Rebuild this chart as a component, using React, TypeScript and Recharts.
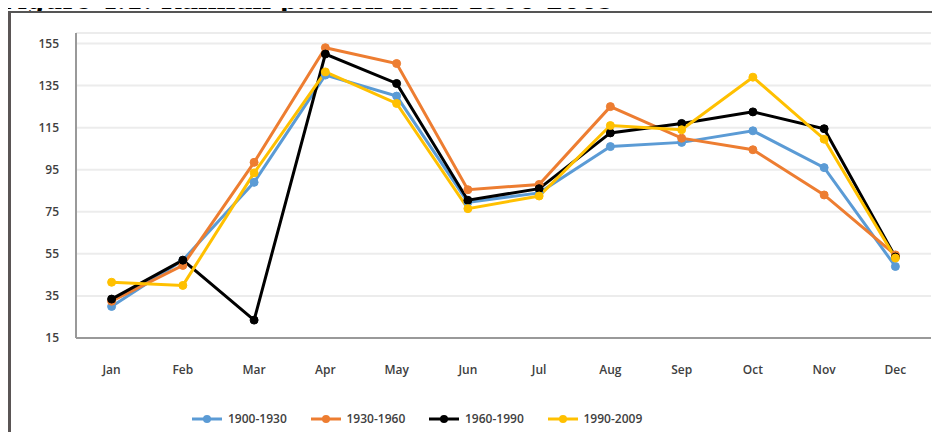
import { LineChart, Line, XAxis, YAxis, CartesianGrid } from "recharts";

const MONTHS = ["Jan", "Feb", "Mar", "Apr", "May", "Jun", "Jul", "Aug", "Sep", "Oct", "Nov", "Dec"];
const Y_TICKS = [15, 35, 55, 75, 95, 115, 135, 155];

const P1900_1930 = [30, 52, 89, 140, 130, 79.5, 84, 106, 108, 113.5, 96, 49];
const P1930_1960 = [32.5, 49.5, 98.5, 153, 145.5, 85.5, 88, 125, 110, 104.5, 83, 54.5];
const P1960_1990 = [33.5, 52, 23.5, 150, 136, 80.5, 86, 112.5, 117, 122.5, 114.5, 53.5];
const P1990_2009 = [41.5, 40, 93.5, 141.5, 126.5, 76.5, 82.5, 116, 114, 139, 109.5, 53];

const SERIES = [
  { key: "a", name: "1900-1930", color: "#5b9bd5" },
  { key: "b", name: "1930-1960", color: "#ed7d31" },
  { key: "c", name: "1960-1990", color: "#000000" },
  { key: "d", name: "1990-2009", color: "#ffc000" },
];

const data = MONTHS.map((m, i) => ({
  month: m,
  a: P1900_1930[i],
  b: P1930_1960[i],
  c: P1960_1990[i],
  d: P1990_2009[i],
}));

const FONT = "'Open Sans', sans-serif";
const tick = { fontSize: 12, fill: "#404040", fontFamily: FONT, fontWeight: 600 };

function LegendRow() {
  return (
    <div style={{ display: "flex", fontFamily: FONT, fontSize: 12, fontWeight: 600, color: "#404040" }}>
      {SERIES.map((s) => (
        <div key={s.key} style={{ display: "flex", alignItems: "center", width: 118.5 }}>
          <svg width={32} height={12}>
            <line x1={0} y1={6} x2={30} y2={6} stroke={s.color} strokeWidth={3} />
            <circle cx={15} cy={6} r={4} fill={s.color} />
          </svg>
          <span style={{ marginLeft: 4 }}>{s.name}</span>
        </div>
      ))}
    </div>
  );
}

export default function App() {
  return (
    <div style={{ position: "relative", width: 940, height: 440, margin: -8, overflow: "hidden", background: "#fff" }}>
      {/* outer frame */}
      <div
        style={{
          position: "absolute",
          left: 8,
          top: 11,
          width: 960,
          height: 460,
          borderLeft: "3px solid #5a5555",
          borderTop: "2px solid #555",
          background: "#fff",
        }}
      />
      <div style={{ position: "absolute", left: 0, top: 0 }}>
        <LineChart width={940} height={440} data={data} margin={{ top: 33, right: 9, bottom: 72, left: 16 }}>
          <CartesianGrid vertical={false} stroke="#ececec" strokeWidth={2} />
          <XAxis
            dataKey="month"
            height={30}
            padding={{ left: 35.6, right: 35.6 }}
            tick={tick}
            tickLine={false}
            tickSize={25}
            tickMargin={2}
            axisLine={{ stroke: "#999", strokeWidth: 2 }}
            interval={0}
          />
          <XAxis xAxisId="top" dataKey="month" orientation="top" height={0} tick={false} tickLine={false} axisLine={{ stroke: "#999", strokeWidth: 2 }} />
          <YAxis
            domain={[15, 160]}
            ticks={Y_TICKS}
            width={60}
            tick={tick}
            tickLine={false}
            tickSize={15}
            tickMargin={2}
            axisLine={{ stroke: "#999", strokeWidth: 2 }}
            interval={0}
          />
          <YAxis yAxisId="right" orientation="right" width={0} tick={false} tickLine={false} axisLine={{ stroke: "#999", strokeWidth: 2 }} />
          {SERIES.map((s) => (
            <Line
              key={s.key}
              type="linear"
              dataKey={s.key}
              name={s.name}
              stroke={s.color}
              strokeWidth={3}
              dot={{ r: 4, fill: s.color, stroke: s.color, strokeWidth: 1 }}
              isAnimationActive={false}
            />
          ))}
        </LineChart>
      </div>
      <div style={{ position: "absolute", left: 192, top: 410 }}>
        <LegendRow />
      </div>
      {/* caption, cut off at the top like the source crop */}
      <svg width={940} height={11} style={{ position: "absolute", left: 0, top: 0, display: "block" }}>
        <text x={0} y={9} fontFamily="'DejaVu Serif', serif" fontWeight={700} fontSize={24.8} fill="#000">
          Figure 4.1: Rainfall pattern from 1900-2009
        </text>
      </svg>
    </div>
  );
}
